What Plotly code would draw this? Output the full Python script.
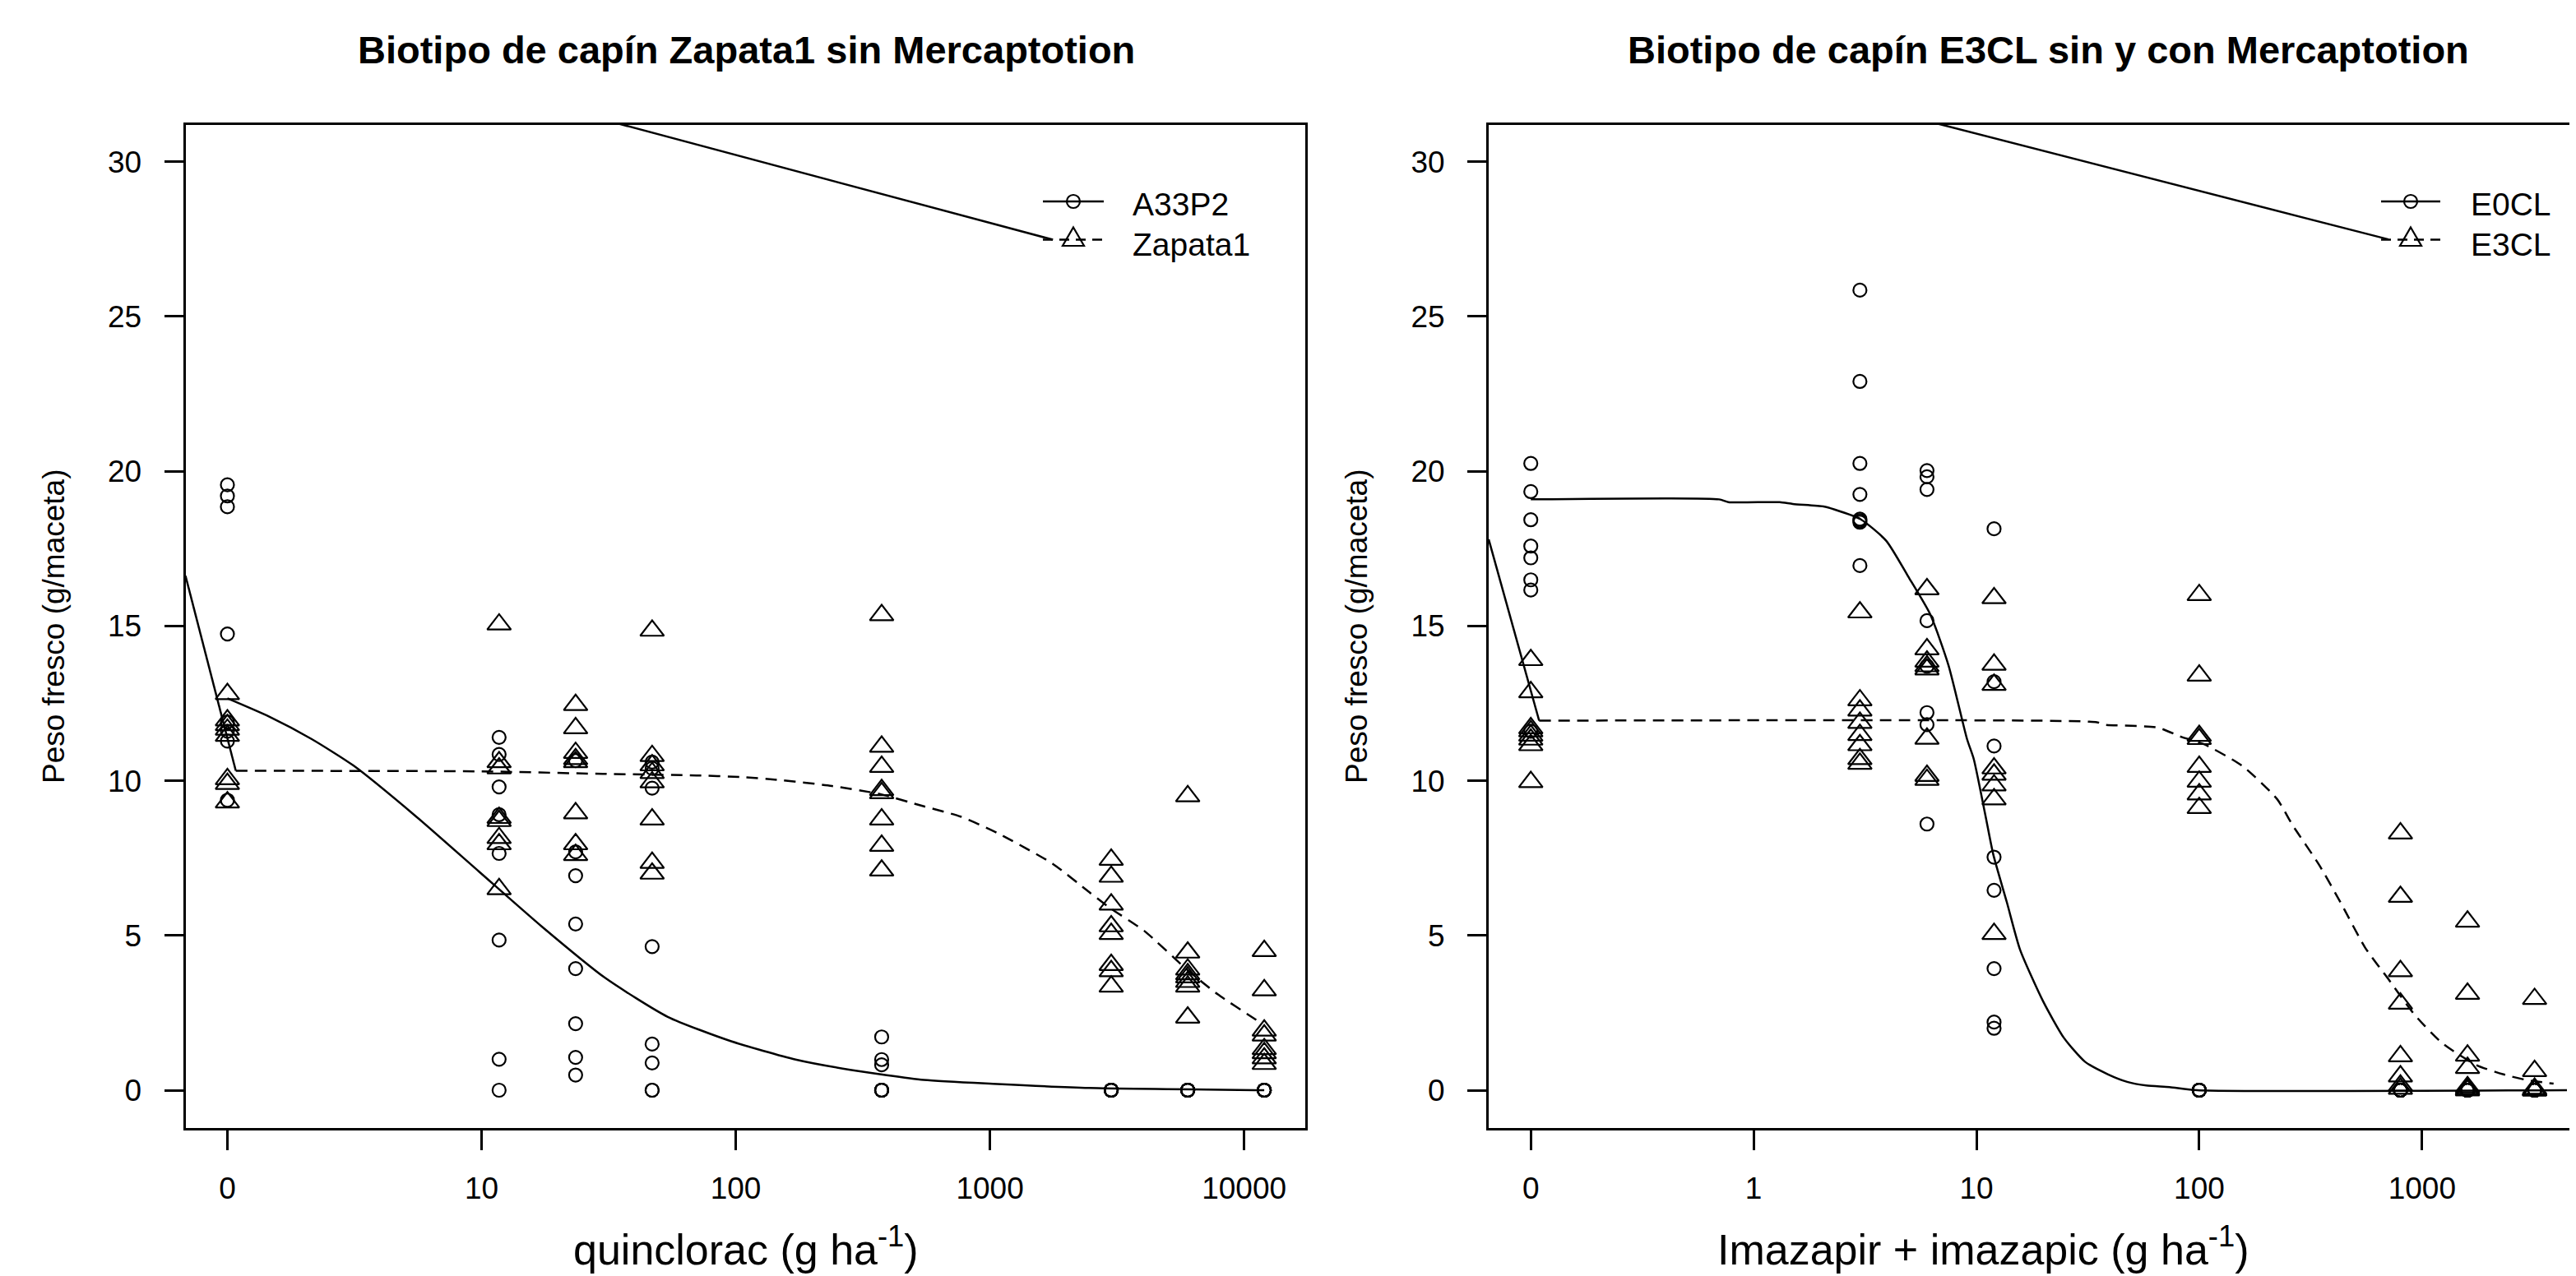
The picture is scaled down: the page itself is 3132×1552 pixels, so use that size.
import plotly.graph_objects as go

# page pixel size of the reference and the browser's default body margin
PAGE_W, PAGE_H = 3132, 1552
OFF = 8
W, H = PAGE_W - OFF, PAGE_H - OFF

# ------------------------------------------------------------------
# DATA  (dose 0 is drawn at the axis position labelled "0")
# ------------------------------------------------------------------
# Left panel: quinclorac (g/ha)
doses_left = [0, 11.72, 23.44, 46.88, 375, 3000, 6000, 12000]
zero_pos_left = 1.0
a33p2_vals = [
    [19.56, 19.2, 18.85, 14.74, 11.9, 11.6, 11.28, 9.37],
    [11.4, 10.85, 9.8, 8.9, 7.65, 4.85, 1.0, 0.0],
    [10.65, 7.7, 6.93, 5.37, 3.93, 2.15, 1.06, 0.49],
    [10.6, 10.4, 9.76, 4.64, 1.49, 0.88, 0.0, 0.0],
    [1.72, 0.99, 0.82, 0.0, 0.0, 0.0, 0.0, 0.0],
    [0.0, 0.0, 0.0, 0.0, 0.0, 0.0, 0.0, 0.0],
    [0.0, 0.0, 0.0, 0.0, 0.0, 0.0, 0.0, 0.0],
    [0.0, 0.0, 0.0, 0.0, 0.0, 0.0, 0.0, 0.0],
]
zapata1_vals = [
    [12.8, 11.95, 11.8, 11.65, 11.45, 10.05, 9.9, 9.3],
    [15.05, 10.6, 10.4, 8.8, 8.7, 8.15, 7.95, 6.5],
    [12.45, 11.7, 10.9, 10.7, 10.6, 8.95, 7.95, 7.6],
    [14.85, 10.8, 10.5, 10.25, 9.95, 8.75, 7.35, 7.0],
    [15.35, 11.1, 10.45, 9.7, 9.6, 8.75, 7.9, 7.1],
    [7.45, 6.9, 6.0, 5.3, 5.05, 4.05, 3.85, 3.35],
    [9.5, 4.45, 3.9, 3.75, 3.65, 3.5, 3.35, 2.35],
    [4.5, 3.23, 1.93, 1.77, 1.33, 1.2, 1.03, 0.85],
]
# fitted curves (dose, value)
curve_a33p2_dose = [0, 1.46, 2.14, 3.13, 5.53, 9.78, 17.3, 30.6, 54, 96, 172, 282, 550, 1070, 2450, 12000]
curve_a33p2_val = [12.66, 12.07, 11.35, 10.49, 8.84, 7.06, 5.28, 3.63, 2.37, 1.58, 0.99, 0.66, 0.33, 0.2, 0.07, 0.0]
curve_zapata1_dose = [1.079, 10, 30, 70, 104, 145, 239, 373, 550, 767, 1070, 1762, 2457, 2988, 4043, 5970, 7870, 10970, 11500]
curve_zapata1_val = [10.32, 10.3, 10.22, 10.17, 10.12, 10.03, 9.83, 9.56, 9.17, 8.84, 8.31, 7.32, 6.4, 5.87, 5.15, 3.89, 3.1, 2.31, 2.2]
# stray solid segments present in the original figure
stray_left_top_dose = [15.4, 1770]
stray_left_top_val = [32.0, 27.48]
stray_left_low_dose = [0.684, 1.079]
stray_left_low_val = [16.62, 10.32]

# Right panel: imazapir + imazapic (g/ha)
doses_right = [0, 3, 6, 12, 100, 800, 1600, 3200]
zero_pos_right = 0.1
e0cl_vals = [
    [20.25, 19.34, 18.43, 17.58, 17.2, 16.49, 16.16, 11.6],
    [25.85, 22.9, 20.25, 19.25, 18.45, 18.4, 18.35, 16.95],
    [20.02, 19.82, 19.41, 15.17, 13.7, 12.2, 11.81, 8.6],
    [18.14, 13.2, 11.12, 7.53, 6.46, 3.93, 2.2, 2.0],
    [0.0, 0.0, 0.0, 0.0, 0.0, 0.0, 0.0, 0.0],
    [0.0, 0.0, 0.0, 0.0, 0.0, 0.0, 0.0, 0.0],
    [0.0, 0.0, 0.0, 0.0, 0.0, 0.0, 0.0, 0.0],
    [0.0, 0.0, 0.0, 0.0, 0.0, 0.0, 0.0, 0.0],
]
e3cl_vals = [
    [13.9, 12.86, 11.7, 11.6, 11.46, 11.33, 11.15, 9.96],
    [15.44, 12.6, 12.27, 11.87, 11.48, 11.15, 10.7, 10.55],
    [16.19, 14.25, 13.85, 13.7, 13.6, 11.36, 10.16, 10.03],
    [15.9, 13.75, 13.1, 10.4, 10.2, 9.85, 9.4, 5.05],
    [16.0, 13.4, 11.45, 11.35, 10.45, 9.97, 9.56, 9.12],
    [8.3, 6.25, 3.85, 2.8, 1.1, 0.45, 0.15, 0.05],
    [5.45, 3.12, 1.12, 0.72, 0.1, 0.05, 0.0, 0.0],
    [2.95, 0.62, 0.05, 0.0, 0.0, 0.0, 0.0, 0.0],
]
curve_e0cl_dose = [0, 0.7, 0.77, 1.31, 1.5, 2.06, 2.31, 3.02, 3.94, 4.94, 6.21, 7.5, 9.07, 9.73, 10.96,
                   11.9, 13.7, 15.7, 19.9, 24.7, 30.7, 39, 47.5, 57.9, 73.6, 98, 4470]
curve_e0cl_val = [19.09, 19.09, 19.0, 19.0, 18.94, 18.86, 18.76, 18.45, 17.75, 16.6, 15.37, 13.72, 11.35, 10.7, 8.9,
                  7.62, 6.07, 4.54, 2.88, 1.69, 0.92, 0.51, 0.27, 0.15, 0.1, 0.0, 0.0]
curve_e3cl_dose = [0.109, 10, 34.7, 37.5, 65, 82.8, 105, 156.6, 223.9, 262, 346, 438, 556, 706, 933, 1232, 1758, 2321, 2944, 3893]
curve_e3cl_val = [11.94, 11.95, 11.89, 11.81, 11.72, 11.42, 11.18, 10.47, 9.4, 8.57, 7.27, 5.97, 4.6, 3.59, 2.41, 1.52, 0.81, 0.51, 0.33, 0.21]
stray_right_top_dose = [2.56, 706]
stray_right_top_val = [32.0, 27.49]
stray_right_low_dose = [0.0647, 0.109]
stray_right_low_val = [17.8, 11.94]

# axis ticks
ticks_left_vals = [1, 10, 100, 1000, 10000]
ticks_left_text = ["0", "10", "100", "1000", "10000"]
ticks_right_vals = [0.1, 1, 10, 100, 1000]
ticks_right_text = ["0", "1", "10", "100", "1000"]
y_ticks = [0, 5, 10, 15, 20, 25, 30]

# ------------------------------------------------------------------
FONT = "Liberation Sans, Arial, Helvetica, sans-serif"
BLACK = "black"


def px_x(p):
    return (p - OFF) / W


def px_y(p):
    return 1 - (p - OFF) / H


def flat(doses, vals, zero_pos):
    xs, ys = [], []
    for d, vs in zip(doses, vals):
        for v in vs:
            xs.append(zero_pos if d == 0 else d)
            ys.append(v)
    return xs, ys


def zmap(doses, zero_pos):
    return [zero_pos if d == 0 else d for d in doses]


fig = go.Figure()

CIRCLE = dict(symbol="circle-open", size=16, color=BLACK, line=dict(width=2.2, color=BLACK))
TRI = dict(symbol="triangle-up-open", size=25, color=BLACK, line=dict(width=2.2, color=BLACK))
SOLID = dict(color=BLACK, width=2.5)
DASHED = dict(color=BLACK, width=2.5, dash="14px,9px")

# left panel
x, y = flat(doses_left, a33p2_vals, zero_pos_left)
fig.add_trace(go.Scatter(x=x, y=y, mode="markers", marker=CIRCLE, name="A33P2", xaxis="x", yaxis="y"))
x, y = flat(doses_left, zapata1_vals, zero_pos_left)
fig.add_trace(go.Scatter(x=x, y=y, mode="markers", marker=TRI, name="Zapata1", xaxis="x", yaxis="y"))
fig.add_trace(go.Scatter(x=zmap(curve_a33p2_dose, zero_pos_left), y=curve_a33p2_val, mode="lines",
                         line=dict(**SOLID, shape="spline", smoothing=0.6), xaxis="x", yaxis="y"))
fig.add_trace(go.Scatter(x=curve_zapata1_dose, y=curve_zapata1_val, mode="lines",
                         line=dict(**DASHED, shape="spline", smoothing=0.6), xaxis="x", yaxis="y"))
fig.add_trace(go.Scatter(x=stray_left_top_dose, y=stray_left_top_val, mode="lines", line=SOLID, xaxis="x", yaxis="y"))
fig.add_trace(go.Scatter(x=stray_left_low_dose, y=stray_left_low_val, mode="lines", line=SOLID, xaxis="x", yaxis="y"))

# right panel
x, y = flat(doses_right, e0cl_vals, zero_pos_right)
fig.add_trace(go.Scatter(x=x, y=y, mode="markers", marker=CIRCLE, name="E0CL", xaxis="x2", yaxis="y2"))
x, y = flat(doses_right, e3cl_vals, zero_pos_right)
fig.add_trace(go.Scatter(x=x, y=y, mode="markers", marker=TRI, name="E3CL", xaxis="x2", yaxis="y2"))
fig.add_trace(go.Scatter(x=zmap(curve_e0cl_dose, zero_pos_right), y=curve_e0cl_val, mode="lines",
                         line=dict(**SOLID, shape="spline", smoothing=0.6), xaxis="x2", yaxis="y2"))
fig.add_trace(go.Scatter(x=curve_e3cl_dose, y=curve_e3cl_val, mode="lines",
                         line=dict(**DASHED, shape="spline", smoothing=0.6), xaxis="x2", yaxis="y2"))
fig.add_trace(go.Scatter(x=stray_right_top_dose, y=stray_right_top_val, mode="lines", line=SOLID, xaxis="x2", yaxis="y2"))
fig.add_trace(go.Scatter(x=stray_right_low_dose, y=stray_right_low_val, mode="lines", line=SOLID, xaxis="x2", yaxis="y2"))

TICKFONT = dict(family=FONT, size=37, color=BLACK)
common_x = dict(type="log", showgrid=False, zeroline=False, showline=True, linecolor=BLACK, linewidth=3,
                mirror=True, ticks="outside", ticklen=24, tickwidth=2.5, tickcolor=BLACK,
                tickfont=TICKFONT, ticklabelstandoff=14)
common_y = dict(range=[-1.23, 31.2], showgrid=False, zeroline=False, showline=True, linecolor=BLACK,
                linewidth=3, ticks="outside", ticklen=23, tickwidth=2.5, tickcolor=BLACK,
                tickfont=TICKFONT, tickvals=y_ticks, ticklabelstandoff=20)

y_dom = [px_y(1372.3), px_y(151.5)]
fig.update_layout(
    width=W, height=H, margin=dict(l=0, r=0, t=0, b=0),
    paper_bgcolor="white", plot_bgcolor="white", showlegend=False,
    font=dict(family=FONT, color=BLACK),
    xaxis=dict(common_x, domain=[px_x(225.5), px_x(1586.5)], range=[-0.165, 4.239],
               tickvals=ticks_left_vals, ticktext=ticks_left_text, anchor="y"),
    yaxis=dict(common_y, domain=y_dom, mirror=True, anchor="x"),
    xaxis2=dict(common_x, domain=[px_x(1810), 1.0], range=[-1.189, 3.691],
                tickvals=ticks_right_vals, ticktext=ticks_right_text, anchor="y2"),
    yaxis2=dict(common_y, domain=y_dom, mirror=False, anchor="x2"),
)

ann = []
# panel titles
ann.append(dict(text="<b>Biotipo de capín Zapata1 sin Mercaptotion</b>", x=px_x(907), y=px_y(60)))
ann.append(dict(text="<b>Biotipo de capín E3CL sin y con Mercaptotion</b>", x=px_x(2490), y=px_y(60)))
for a in ann:
    a.update(xref="paper", yref="paper", showarrow=False, xanchor="center", yanchor="middle",
             font=dict(family=FONT, size=47, color=BLACK))
# axis titles
ann.append(dict(text="quinclorac (g ha<sup>-1</sup>)", x=px_x(907), y=px_y(1516), xref="paper", yref="paper",
                showarrow=False, xanchor="center", yanchor="middle", font=dict(family=FONT, size=52, color=BLACK)))
ann.append(dict(text="Imazapir + imazapic (g ha<sup>-1</sup>)", x=px_x(2411), y=px_y(1516), xref="paper", yref="paper",
                showarrow=False, xanchor="center", yanchor="middle", font=dict(family=FONT, size=52, color=BLACK)))
for cx in (66, 1650):
    ann.append(dict(text="Peso fresco (g/maceta)", x=px_x(cx), y=px_y(762), xref="paper", yref="paper",
                    showarrow=False, textangle=-90, xanchor="center", yanchor="middle",
                    font=dict(family=FONT, size=37, color=BLACK)))

# legends (drawn like R's legend(): line + symbol + label)
shapes = []
legends = [
    (1268, 1342, 1375, ["A33P2", "Zapata1"]),
    (2895, 2967, 3002, ["E0CL", "E3CL"]),
]
rows_y = [245, 291.5]
text_y = [248, 297]
for x0, x1, tx, labels in legends:
    cx = (x0 + x1) / 2
    for i, lab in enumerate(labels):
        ly = rows_y[i]
        shapes.append(dict(type="line", xref="paper", yref="paper", x0=px_x(x0), x1=px_x(x1),
                           y0=px_y(ly), y1=px_y(ly),
                           line=dict(color=BLACK, width=2.5, dash="solid" if i == 0 else "12px,8px")))
        if i == 0:
            shapes.append(dict(type="circle", xref="paper", yref="paper", x0=px_x(cx - 8), x1=px_x(cx + 8),
                               y0=px_y(ly + 8), y1=px_y(ly - 8), line=dict(color=BLACK, width=2.2)))
        else:
            path = "M {:.6f},{:.6f} L {:.6f},{:.6f} L {:.6f},{:.6f} Z".format(
                px_x(cx), px_y(ly - 15), px_x(cx + 13), px_y(ly + 7.5), px_x(cx - 13), px_y(ly + 7.5))
            shapes.append(dict(type="path", xref="paper", yref="paper", path=path, line=dict(color=BLACK, width=2.2)))
        ann.append(dict(text=lab, x=px_x(tx), y=px_y(text_y[i]), xref="paper", yref="paper", showarrow=False,
                        xanchor="left", yanchor="middle", font=dict(family=FONT, size=39, color=BLACK)))

fig.update_layout(annotations=ann, shapes=shapes)
fig.write_html("out.html")
